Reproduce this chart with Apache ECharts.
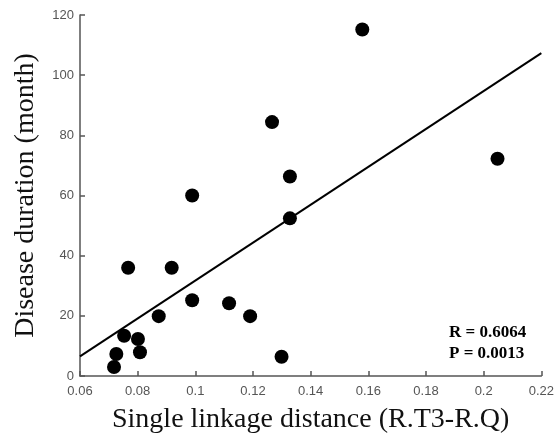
<!DOCTYPE html>
<html><head><meta charset="utf-8">
<script src="https://cdn.jsdelivr.net/npm/echarts@6/dist/echarts.min.js"></script>
<style>html,body{margin:0;padding:0;background:#fff}#c{width:557px;height:439px}</style>
</head><body><div id="c"></div>
<script>
const linkageDistance = [0.0718, 0.0726, 0.0753, 0.0767, 0.0801, 0.0808, 0.0873, 0.0918, 0.0989, 0.0989, 0.1117, 0.1190, 0.1299, 0.1266, 0.1328, 0.1328, 0.1579, 0.2048];
const diseaseDuration = [3.0, 7.3, 13.4, 36, 12.3, 7.9, 19.9, 36, 25.2, 60, 24.2, 19.9, 6.4, 84.4, 66.3, 52.4, 115.2, 72.2];
const fitX = [0.06, 0.22];
const fitY = [6.5, 107.3];
const annotation = ['R = 0.6064', 'P = 0.0013'];
const xTicks = [0.06, 0.08, 0.1, 0.12, 0.14, 0.16, 0.18, 0.2, 0.22];
const yTicks = [0, 20, 40, 60, 80, 100, 120];

const chart = echarts.init(document.getElementById('c'), null, {renderer: 'canvas'});
const axisCommon = {
  axisLine: {show: true, lineStyle: {color: '#555', width: 1.5}},
  axisTick: {show: true, inside: true, length: 5, lineStyle: {color: '#555', width: 1.5}},
  axisLabel: {color: '#555', fontFamily: 'Liberation Sans, Arial', fontSize: 13},
  splitLine: {show: false},
  nameTextStyle: {color: '#111', fontFamily: 'Liberation Serif, Times New Roman', fontSize: 28}
};
chart.setOption({
  animation: false,
  grid: {left: 80, right: 13, top: 15, bottom: 57.5},
  xAxis: Object.assign({}, axisCommon, {
    type: 'value', min: xTicks[0], max: xTicks[xTicks.length - 1], interval: 0.02,
    name: 'Single linkage distance (R.T3-R.Q)', nameLocation: 'middle', nameGap: 30,
    axisLabel: Object.assign({}, axisCommon.axisLabel, {margin: 9, formatter: v => String(+v.toFixed(2))})
  }),
  yAxis: Object.assign({}, axisCommon, {
    type: 'value', min: yTicks[0], max: yTicks[yTicks.length - 1], interval: 20,
    name: 'Disease duration (month)', nameLocation: 'middle', nameGap: 40,
    axisLabel: Object.assign({}, axisCommon.axisLabel, {margin: 6})
  }),
  series: [
    {
      type: 'line', data: fitX.map((x, i) => [x, fitY[i]]), symbol: 'none',
      lineStyle: {color: '#000', width: 2}, z: 2
    },
    {
      type: 'scatter', data: linkageDistance.map((x, i) => [x, diseaseDuration[i]]),
      symbol: 'circle', symbolSize: 14, itemStyle: {color: '#000', opacity: 1}, z: 3
    }
  ],
  graphic: [
    {type: 'text', left: 449, top: 322, style: {text: annotation.join('\n'), fill: '#000',
      font: 'bold 17px "Liberation Serif", "Times New Roman"', lineHeight: 21}}
  ]
});
</script>
</body></html>
